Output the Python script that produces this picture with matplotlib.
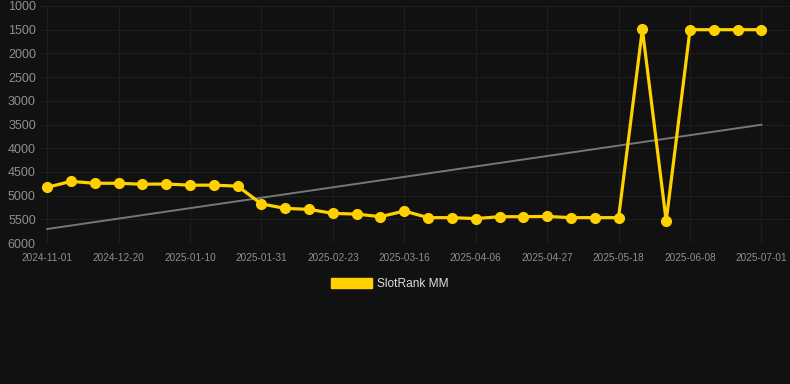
import matplotlib
matplotlib.use("Agg")
import matplotlib.pyplot as plt
from matplotlib.patches import Patch

plt.rcParams["font.family"] = ["Liberation Sans", "DejaVu Sans"]

dates = [
    "2024-11-01", "2024-11-22", "2024-12-06", "2024-12-20", "2024-12-27",
    "2025-01-03", "2025-01-10", "2025-01-17", "2025-01-24", "2025-01-31",
    "2025-02-08", "2025-02-16", "2025-02-23", "2025-03-02", "2025-03-09",
    "2025-03-16", "2025-03-23", "2025-03-30", "2025-04-06", "2025-04-13",
    "2025-04-20", "2025-04-27", "2025-05-04", "2025-05-11", "2025-05-18",
    "2025-05-25", "2025-06-01", "2025-06-08", "2025-06-15", "2025-06-23",
    "2025-07-01",
]
rank = [
    4825, 4700, 4740, 4740, 4760, 4755, 4780, 4780, 4800,
    5175, 5270, 5290, 5375, 5390, 5445, 5325, 5465, 5465, 5485,
    5445, 5445, 5440, 5465, 5465, 5465,
    1490, 5535, 1500, 1500, 1500, 1500,
]
trend_x = [0, 30]
trend_y = [5705, 3505]
yticks = [1000, 1500, 2000, 2500, 3000, 3500, 4000, 4500, 5000, 5500, 6000]
series_name = "SlotRank MM"

BG = "#111111"
GOLD = "#FFD100"

fig = plt.figure(figsize=(7.9, 3.84), dpi=100, facecolor=BG)
ax = fig.add_axes([40 / 790, 1 - 243 / 384, 750 / 790, 237 / 384], facecolor=BG)

x = list(range(len(rank)))
ax.plot(trend_x, trend_y, color="#777777", lw=1.4, zorder=2)
ax.plot(x, rank, color=GOLD, lw=2.3, marker="o", markersize=7.0,
        solid_joinstyle="miter", zorder=3)

ax.set_ylim(6000, 1000)
ax.set_xlim(-0.3, 31.2)
ax.set_yticks(yticks)
ax.set_yticklabels([str(v) for v in yticks])
tick_idx = list(range(0, len(dates), 3))
ax.set_xticks(tick_idx)
ax.set_xticklabels([dates[i] for i in tick_idx])

ax.grid(True, color="#1e1e1e", lw=0.8, zorder=0)
for s in ax.spines.values():
    s.set_visible(False)
ax.tick_params(axis="both", length=0, colors="#8f8f8f")
ax.tick_params(axis="y", labelsize=9, pad=3)
ax.tick_params(axis="x", labelsize=7.2, pad=7)

leg = fig.legend(handles=[Patch(facecolor=GOLD, edgecolor=GOLD, label=series_name)],
                 loc="center", bbox_to_anchor=(390 / 790, 1 - 284 / 384),
                 frameon=False, handlelength=3.4, handleheight=0.95,
                 fontsize=8.6, labelcolor="#dddddd", handletextpad=0.5)

fig.savefig("out.png", dpi=100, facecolor=BG)
